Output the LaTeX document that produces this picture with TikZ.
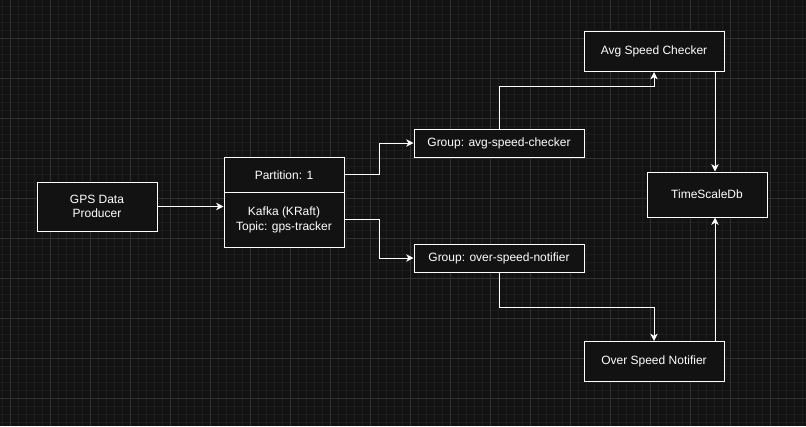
\documentclass[tikz,border=0pt]{standalone}
\usepackage{fontspec}
\setmainfont{Liberation Sans}
\usetikzlibrary{arrows.meta}
\definecolor{bg}{HTML}{121212}
\definecolor{gminor}{HTML}{1D1D1D}
\definecolor{gmajor}{HTML}{303030}
\begin{document}
\begin{tikzpicture}[x=0.75pt,y=-0.75pt,
  box/.style={draw=white,fill=bg,line width=0.75pt,text=white,inner sep=0pt,
    font=\fontsize{9pt}{10.7pt}\selectfont,align=center},
  arr/.style={draw=white,line width=0.75pt,-{Stealth[length=5.5pt,width=5.5pt,inset=1.6pt]}}]
\fill[bg] (0,0) rectangle (806,426);
\useasboundingbox (0,0) rectangle (806,426);
% minor grid
\foreach \i in {0,...,101} {\draw[gminor,line width=0.5pt] (2+8*\i,0) -- (2+8*\i,426);}
\foreach \i in {0,...,53} {\draw[gminor,line width=0.5pt] (0,6+8*\i) -- (806,6+8*\i);}
% major grid
\foreach \i in {0,...,19} {\draw[gmajor,line width=0.75pt] (10+40*\i,0) -- (10+40*\i,426);}
\foreach \i in {0,...,10} {\draw[gmajor,line width=0.75pt] (0,38+40*\i) -- (806,38+40*\i);}
% nodes
\node[box,minimum width=120*0.75pt,minimum height=49*0.75pt] (gps) at (97,206.5) {GPS Data\\Producer};
\node[box,minimum width=120*0.75pt,minimum height=35*0.75pt] (part) at (284,174.8) {Partition: 1};
\node[box,minimum width=120*0.75pt,minimum height=55*0.75pt] (kafka) at (284,219.8) {Kafka (KRaft)\\Topic: gps-tracker};
\node[box,minimum width=170*0.75pt,minimum height=28*0.75pt] (gavg) at (499,143) {Group: avg-speed-checker};
\node[box,minimum width=170*0.75pt,minimum height=28*0.75pt] (gover) at (499,258) {Group: over-speed-notifier};
\node[box,minimum width=140*0.75pt,minimum height=40*0.75pt] (avg) at (654,51.5) {Avg Speed Checker};
\node[box,minimum width=140*0.75pt,minimum height=40*0.75pt] (over) at (654,361.5) {Over Speed Notifier};
\node[box,minimum width=120*0.75pt,minimum height=45*0.75pt] (tsdb) at (707,194.5) {TimeScaleDb};
% connectors
\draw[arr] (gps.east) -- (gps.east -| kafka.west);
\draw[arr] (part.east) -- ++(35,0) |- (gavg.west);
\draw[arr] (kafka.east) -- ++(35,0) |- (gover.west);
\draw[arr] (gavg.north) -- ++(0,-42.3) -| (avg.south);
\draw[arr] (gover.south) -- ++(0,35) -| (over.north);
\draw[arr] ([xshift=45.75pt]avg.south) -- ([xshift=45.75pt]avg.south |- tsdb.north);
\draw[arr] ([xshift=45.75pt]over.north) -- ([xshift=45.75pt]over.north |- tsdb.south);
\end{tikzpicture}
\end{document}
